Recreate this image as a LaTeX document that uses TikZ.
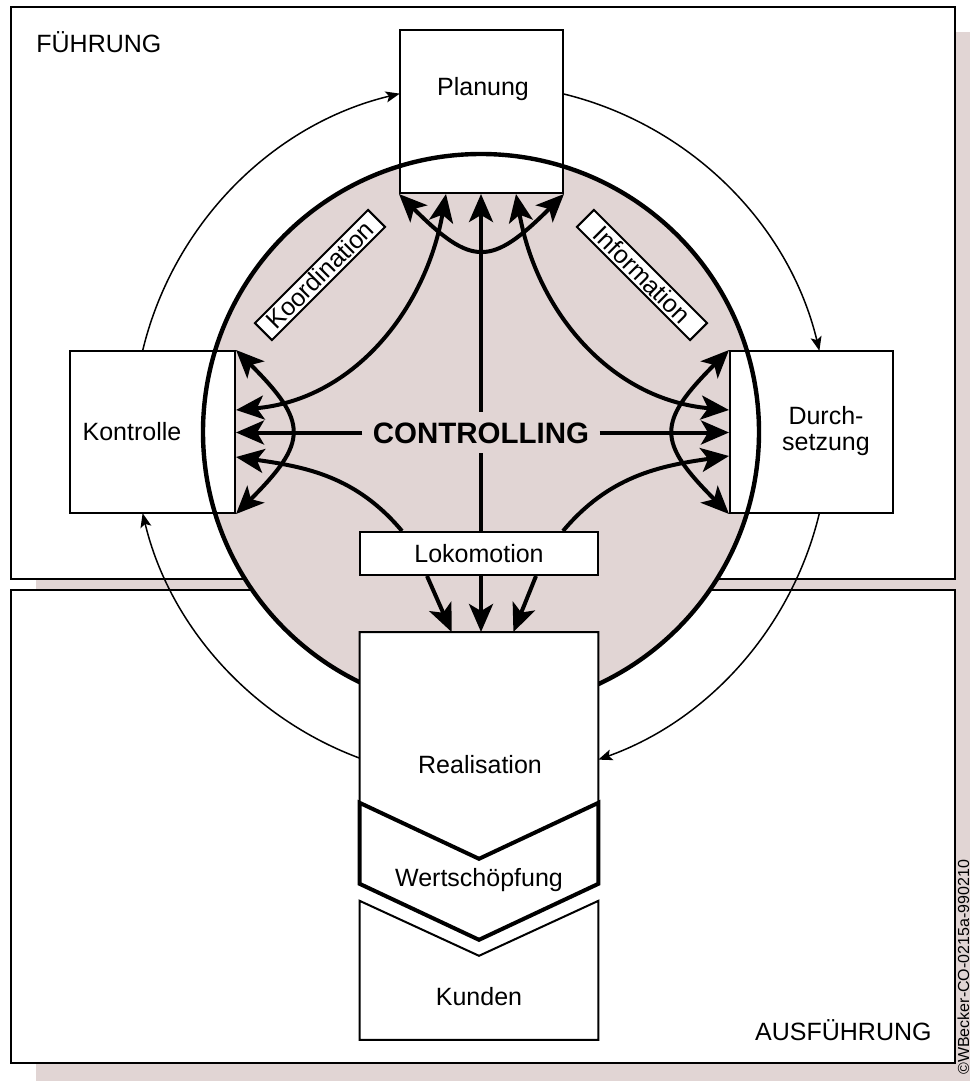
\documentclass[tikz,border=0pt]{standalone}
\usepackage{fontspec}
\setmainfont{Liberation Sans}
\usetikzlibrary{arrows.meta,calc}
\definecolor{pinkbg}{RGB}{225,213,212}
\tikzset{
  BigTip/.tip={Stealth[length=14pt,width=12pt,inset=3.5pt]},
  SmallTip/.tip={Stealth[length=7pt,width=5.5pt,inset=1.5pt]},
}
\begin{document}
\begin{tikzpicture}[x=0.5pt,y=0.5pt,
  frame/.style={draw,line width=1pt,fill=white},
  box/.style={draw,line width=1pt,fill=white,inner sep=0pt},
  txt/.style={font=\fontsize{12.5}{13}\selectfont,inner sep=0pt},
  tag/.style={draw,line width=1pt,fill=white,font=\fontsize{12.5}{14}\selectfont,
    minimum width=80pt,minimum height=12pt,inner sep=0pt,text height=9pt,text depth=0.3pt},
  thinarc/.style={line width=0.75pt,-SmallTip},
  thk/.style={line width=2pt},
]
\useasboundingbox (0,0) rectangle (970,-1081);
\fill[white] (0,0) rectangle (970,-1081);
% shadow
\fill[pinkbg] (36,-32) rectangle (970,-1081);
% frames
\draw[frame] (11,-7) rectangle (955,-579);
\draw[frame] (11,-590) rectangle (955,-1063);
\node[txt,anchor=base west] (fu) at (36,-53) {FÜHRUNG};
\node[txt,anchor=base east] (au) at (932,-1040) {AUSFÜHRUNG};
\node[font=\fontsize{8}{9}\selectfont,rotate=90,anchor=base west,inner sep=0pt] (copy) at (969,-1075) {©WBecker-CO-0215a-990210};

% circle
\coordinate (c) at (481,-432);
\fill[pinkbg] (c) circle[radius=278];

% outer thin ring arrows
\coordinate (r1) at ($(c)+(166.5:348)$);
\coordinate (r2) at ($(c)+(76.5:348)$);
\coordinate (r3) at ($(c)+(-13.5:348)$);
\coordinate (r4) at ($(c)+(-110.3:348)$);
\draw[thinarc] (r1) arc[start angle=166.5,end angle=103.5,radius=348];
\draw[thinarc] (r2) arc[start angle=76.5,end angle=13.5,radius=348];
\draw[thinarc] (r3) arc[start angle=-13.5,end angle=-70.3,radius=348];
\draw[thinarc] (r4) arc[start angle=-110.3,end angle=-166.5,radius=348];

% main boxes
\node[box,minimum width=81.5pt,minimum height=81.5pt] (pl) at (481.5,-111.5) {};
\node[box,minimum width=82.5pt,minimum height=81pt] (ko) at (152.5,-432) {};
\node[box,minimum width=81.5pt,minimum height=81pt] (du) at (811.5,-432) {};

% circle outline over the boxes
\draw[line width=2.2pt] (c) circle[radius=278];

% Realisation / Wertschoepfung / Kunden
\node[inner sep=0pt,minimum width=119pt,minimum height=85pt,anchor=north] (re) at (479,-632) {};
\draw[line width=1pt,fill=white] (re.north west) -- (re.north east) -- (re.south east)
  -- ($(re.south)+(0,-56)$) -- (re.south west) -- cycle;
\draw[line width=2pt,fill=white,line join=miter] (re.south west) -- ($(re.south)+(0,-56)$)
  -- (re.south east) -- ($(re.south east)+(0,-81)$) -- ($(re.south)+(0,-137)$)
  -- ($(re.south west)+(0,-81)$) -- cycle;
\draw[line width=1pt,fill=white] ($(re.south west)+(0,-98)$) -- ($(re.south)+(0,-153)$)
  -- ($(re.south east)+(0,-98)$) -- ($(re.south east)+(0,-237)$)
  -- ($(re.south west)+(0,-237)$) -- cycle;

% Lokomotion
\node[box,minimum width=119pt,minimum height=21.5pt,font=\fontsize{12.5}{14}\selectfont] (lo) at (479,-553.5) {Lokomotion};

% labels on diagonal
\node[tag,rotate=45] (kotag) at (320,-275) {Koordination};
\node[tag,rotate=-45] (intag) at (642,-275) {Information};

% CONTROLLING
\node[font=\bfseries\fontsize{14.75}{16}\selectfont,inner sep=5pt,text height=10.5pt,text depth=0pt,anchor=base] (ctrl) at (481,-443) {CONTROLLING};

% thick arrows
\draw[thk,-BigTip] (ctrl.west) -- (ctrl.west -| ko.east);
\draw[thk,-BigTip] (ctrl.east) -- (ctrl.east -| du.west);
\draw[thk,-BigTip] (ctrl.north) -- (ctrl.north |- pl.south);
\draw[thk] (ctrl.south) -- (ctrl.south |- lo.north);

\draw[thk,BigTip-BigTip] (pl.south west) to[out=-45,in=-135,looseness=1.6] (pl.south east);
\draw[thk,BigTip-BigTip] (ko.south east) to[out=45,in=-45,looseness=1.6] (ko.north east);
\draw[thk,BigTip-BigTip] (du.north west) to[out=-135,in=135,looseness=1.6] (du.south west);

\draw[thk,BigTip-BigTip] ($(ko.east)+(0,22)$) to[out=5,in=-100] ($(pl.south)+(-35.5,0)$);
\draw[thk,BigTip-BigTip] ($(pl.south)+(34.5,0)$) to[out=-80,in=175] ($(du.west)+(0,22)$);
\draw[thk,-BigTip] ($(lo.north west)+(43,0)$) to[out=130,in=-8] ($(ko.east)+(0,-25)$);
\draw[thk,-BigTip] ($(lo.north east)+(-36,0)$) to[out=50,in=-172] ($(du.west)+(0,-24)$);

\draw[thk,-BigTip] ($(lo.south west)+(68,0)$) -- ($(re.north west)+(92,0)$);
\draw[thk,-BigTip] (lo.south -| ctrl.south) -- (re.north -| ctrl.south);
\draw[thk,-BigTip] ($(lo.south east)+(-63,0)$) -- ($(re.north east)+(-85,0)$);

% texts
\node[txt,anchor=base] (tpl) at (483,-96) {Planung};
\node[txt,anchor=base] (tko) at (132,-440) {Kontrolle};
\node[txt,align=center,anchor=north] (tdu) at (826,-406) {Durch-\\setzung};
\node[txt,anchor=base] (tre) at (480,-773) {Realisation};
\node[txt,anchor=base] (tws) at (479,-886) {Wertschöpfung};
\node[txt,anchor=base] (tku) at (479,-1005) {Kunden};
\end{tikzpicture}
\end{document}
